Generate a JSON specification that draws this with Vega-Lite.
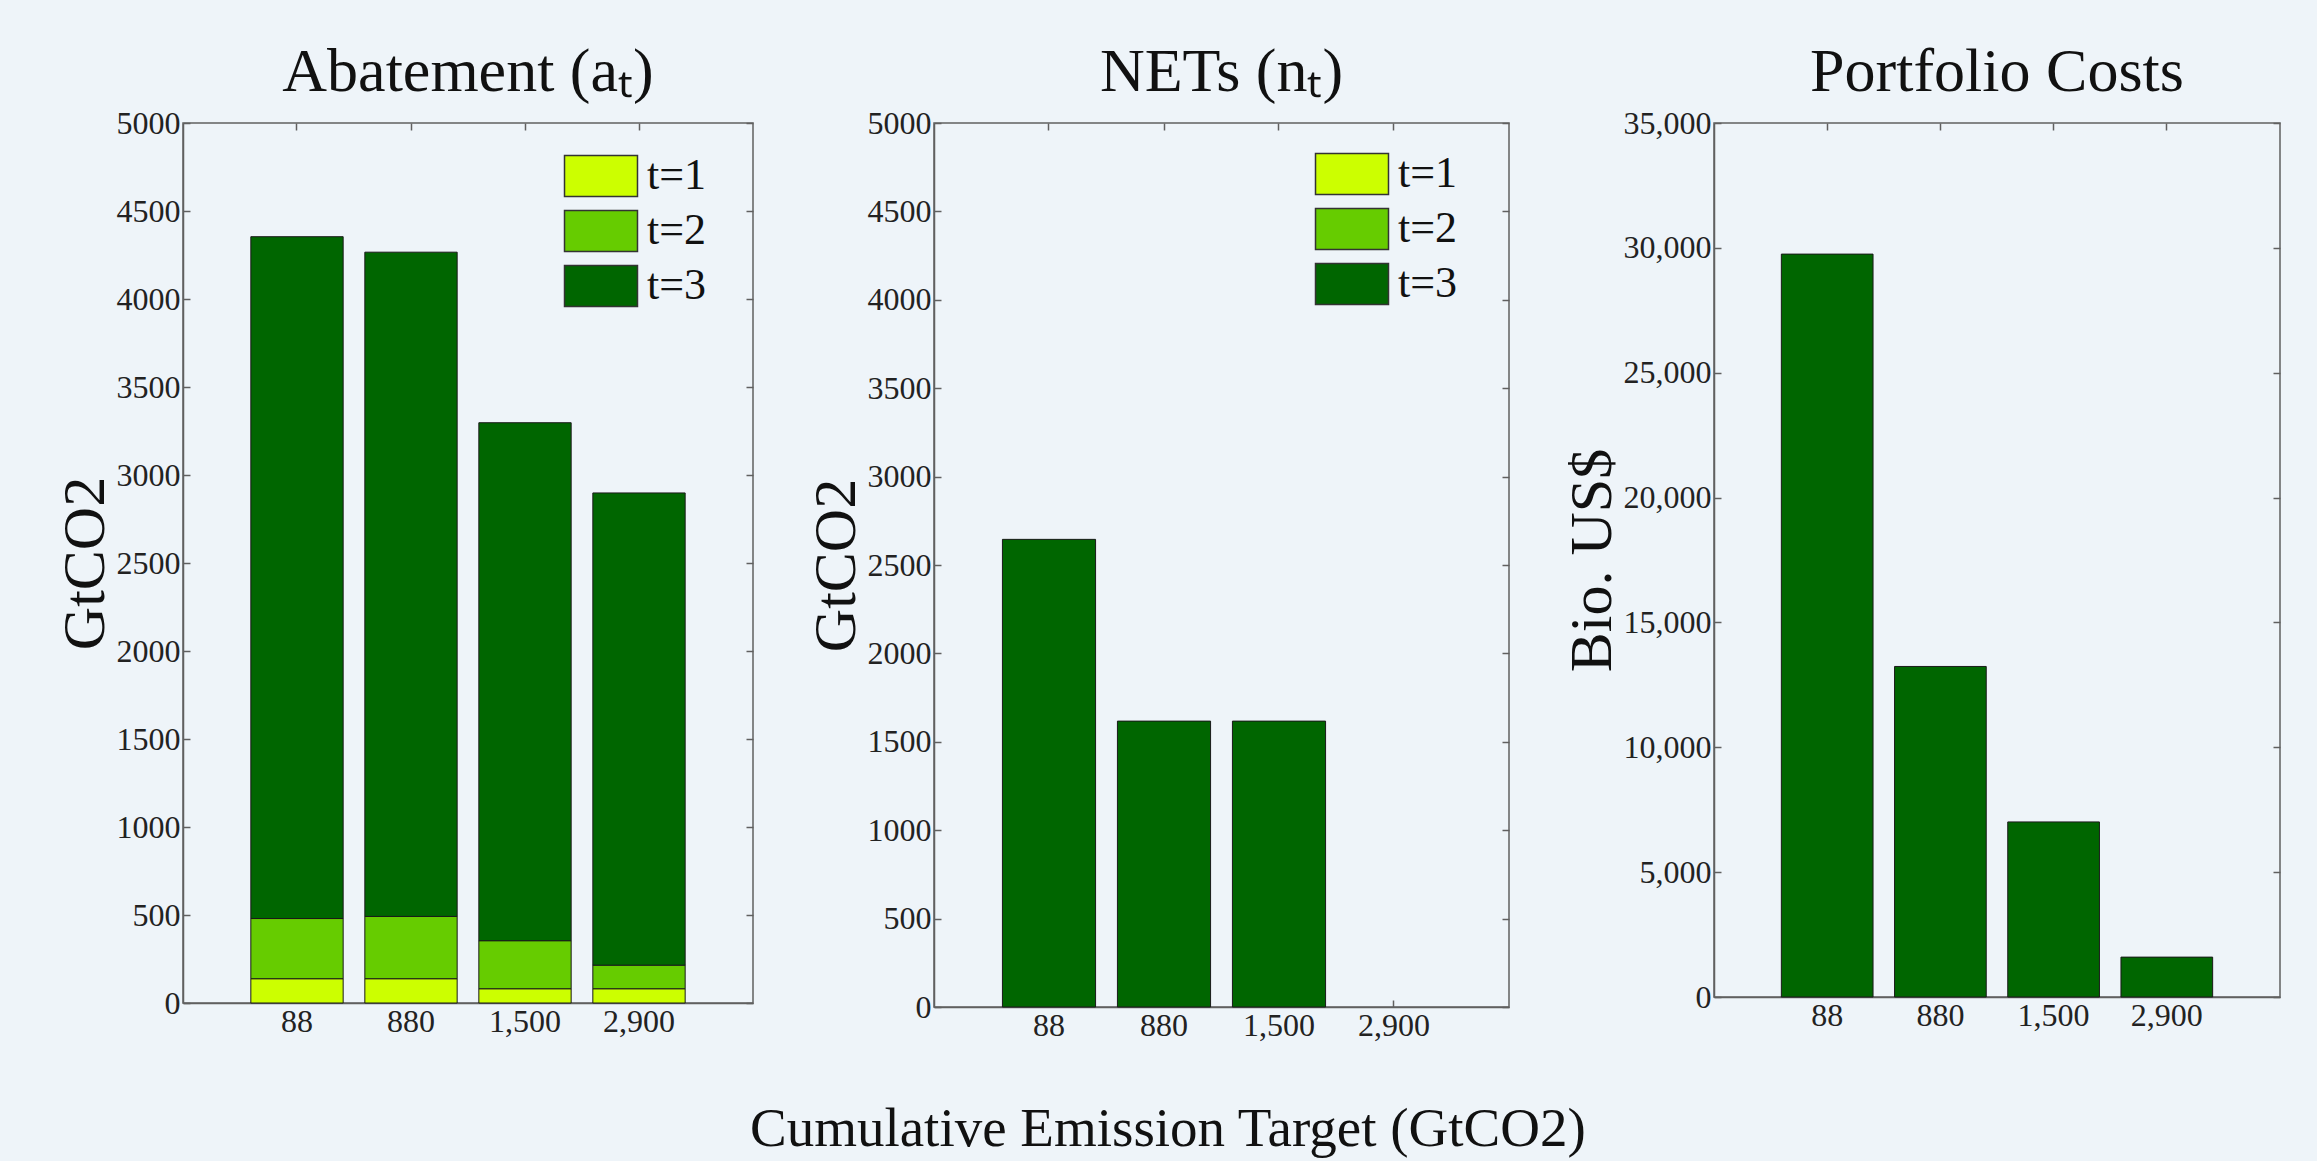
{
  "$schema": "https://vega.github.io/schema/vega-lite/v6.json",
  "background": "#eef4f9",
  "padding": {"left": 54, "top": 40, "right": 35, "bottom": 12},
  "title": {
    "text": "Cumulative Emission Target (GtCO2)",
    "orient": "bottom",
    "anchor": "middle",
    "font": "Liberation Serif",
    "fontSize": 55,
    "fontWeight": "normal",
    "color": "#111111",
    "offset": 61
  },
  "datasets": {
    "abatement": [
      {"target": "88", "period": "t=1", "value": 138},
      {"target": "88", "period": "t=2", "value": 342},
      {"target": "88", "period": "t=3", "value": 3874},
      {"target": "880", "period": "t=1", "value": 138},
      {"target": "880", "period": "t=2", "value": 354},
      {"target": "880", "period": "t=3", "value": 3774},
      {"target": "1,500", "period": "t=1", "value": 81},
      {"target": "1,500", "period": "t=2", "value": 273},
      {"target": "1,500", "period": "t=3", "value": 2943},
      {"target": "2,900", "period": "t=1", "value": 81},
      {"target": "2,900", "period": "t=2", "value": 134},
      {"target": "2,900", "period": "t=3", "value": 2683}
    ],
    "nets": [
      {"target": "88", "period": "t=1", "value": 0},
      {"target": "88", "period": "t=2", "value": 0},
      {"target": "88", "period": "t=3", "value": 2645},
      {"target": "880", "period": "t=1", "value": 0},
      {"target": "880", "period": "t=2", "value": 0},
      {"target": "880", "period": "t=3", "value": 1617},
      {"target": "1,500", "period": "t=1", "value": 0},
      {"target": "1,500", "period": "t=2", "value": 0},
      {"target": "1,500", "period": "t=3", "value": 1617},
      {"target": "2,900", "period": "t=1", "value": 0},
      {"target": "2,900", "period": "t=2", "value": 0},
      {"target": "2,900", "period": "t=3", "value": 0}
    ],
    "costs": [
      {"target": "88", "value": 29750},
      {"target": "880", "value": 13237},
      {"target": "1,500", "value": 7011},
      {"target": "2,900", "value": 1597}
    ]
  },
  "spacing": 50,
  "resolve": {"scale": {"color": "independent"}, "legend": {"color": "independent"}},
  "hconcat": [
    {
      "width": 570,
      "height": 880,
      "title": {"text": "Abatement (aₜ)"},
      "data": {"name": "abatement"},
      "layer": [
        {
          "mark": {"type": "bar", "stroke": "#1a1a1a", "strokeWidth": 1},
          "encoding": {
            "x": {"field": "target", "type": "ordinal", "sort": ["88", "880", "1,500", "2,900"],
                  "scale": {"paddingInner": 0.19, "paddingOuter": 0.595},
                  "axis": {"title": null, "labelAngle": 0}},
            "y": {"field": "value", "type": "quantitative", "stack": "zero",
                  "scale": {"domain": [0, 5000], "nice": false},
                  "axis": {"title": "GtCO2", "values": [0, 500, 1000, 1500, 2000, 2500, 3000, 3500, 4000, 4500, 5000], "format": "d"}},
            "color": {"field": "period", "type": "nominal",
                      "scale": {"domain": ["t=1", "t=2", "t=3"], "range": ["#ccff00", "#66cc00", "#006600"]},
                      "legend": {"orient": "none", "legendX": 396, "legendY": 31}},
            "order": {"field": "period", "sort": "ascending"}
          }
        },
        {
          "mark": {"type": "bar", "opacity": 0},
          "encoding": {
            "x": {"field": "target", "type": "ordinal", "sort": ["88", "880", "1,500", "2,900"],
                  "axis": {"title": null, "orient": "top", "labels": false, "domain": false}},
            "y": {"field": "value", "type": "quantitative", "stack": null,
                  "axis": {"title": null, "orient": "right", "labels": false, "domain": false, "values": [0, 500, 1000, 1500, 2000, 2500, 3000, 3500, 4000, 4500, 5000]}}
          }
        }
      ],
      "resolve": {"axis": {"x": "independent", "y": "independent"}}
    },
    {
      "width": 575,
      "height": 884,
      "title": {"text": "NETs (nₜ)"},
      "data": {"name": "nets"},
      "layer": [
        {
          "mark": {"type": "bar", "stroke": "#1a1a1a", "strokeWidth": 1},
          "encoding": {
            "x": {"field": "target", "type": "ordinal", "sort": ["88", "880", "1,500", "2,900"],
                  "scale": {"paddingInner": 0.19, "paddingOuter": 0.595},
                  "axis": {"title": null, "labelAngle": 0}},
            "y": {"field": "value", "type": "quantitative", "stack": "zero",
                  "scale": {"domain": [0, 5000], "nice": false},
                  "axis": {"title": "GtCO2", "values": [0, 500, 1000, 1500, 2000, 2500, 3000, 3500, 4000, 4500, 5000], "format": "d"}},
            "color": {"field": "period", "type": "nominal",
                      "scale": {"domain": ["t=1", "t=2", "t=3"], "range": ["#ccff00", "#66cc00", "#006600"]},
                      "legend": {"orient": "none", "legendX": 396, "legendY": 29}},
            "order": {"field": "period", "sort": "ascending"},
            "strokeOpacity": {"condition": {"test": "datum.value == 0", "value": 0}, "value": 1}
          }
        },
        {
          "mark": {"type": "bar", "opacity": 0},
          "encoding": {
            "x": {"field": "target", "type": "ordinal", "sort": ["88", "880", "1,500", "2,900"],
                  "axis": {"title": null, "orient": "top", "labels": false, "domain": false}},
            "y": {"field": "value", "type": "quantitative", "stack": null,
                  "axis": {"title": null, "orient": "right", "labels": false, "domain": false, "values": [0, 500, 1000, 1500, 2000, 2500, 3000, 3500, 4000, 4500, 5000]}}
          }
        }
      ],
      "resolve": {"axis": {"x": "independent", "y": "independent"}}
    },
    {
      "width": 566,
      "height": 874,
      "title": {"text": "Portfolio Costs"},
      "data": {"name": "costs"},
      "layer": [
        {
          "mark": {"type": "bar", "stroke": "#1a1a1a", "strokeWidth": 1, "color": "#006600"},
          "encoding": {
            "x": {"field": "target", "type": "ordinal", "sort": ["88", "880", "1,500", "2,900"],
                  "scale": {"paddingInner": 0.19, "paddingOuter": 0.595},
                  "axis": {"title": null, "labelAngle": 0}},
            "y": {"field": "value", "type": "quantitative",
                  "scale": {"domain": [0, 35000], "nice": false},
                  "axis": {"title": "Bio.  US$", "values": [0, 5000, 10000, 15000, 20000, 25000, 30000, 35000], "format": ",d"}}
          }
        },
        {
          "mark": {"type": "bar", "opacity": 0},
          "encoding": {
            "x": {"field": "target", "type": "ordinal", "sort": ["88", "880", "1,500", "2,900"],
                  "axis": {"title": null, "orient": "top", "labels": false, "domain": false}},
            "y": {"field": "value", "type": "quantitative",
                  "axis": {"title": null, "orient": "right", "labels": false, "domain": false, "values": [0, 5000, 10000, 15000, 20000, 25000, 30000, 35000]}}
          }
        }
      ],
      "resolve": {"axis": {"x": "independent", "y": "independent"}}
    }
  ],
  "config": {
    "font": "Liberation Serif",
    "view": {"stroke": "#606060", "strokeWidth": 1.5},
    "axis": {
      "domainColor": "#606060", "domainWidth": 1.5,
      "tickColor": "#606060", "tickWidth": 1.5, "tickSize": -7,
      "labelFont": "Liberation Serif", "labelFontSize": 32, "labelColor": "#222222", "labelPadding": 10,
      "titleFont": "Liberation Serif", "titleFontSize": 60, "titleFontWeight": "normal", "titleColor": "#111111", "titlePadding": 0,
      "grid": false
    },
    "title": {"font": "Liberation Serif", "fontSize": 62, "fontWeight": "normal", "color": "#111111", "offset": 3},
    "legend": {
      "title": null,
      "symbolType": "M-1.78,-1H1.78V1H-1.78Z",
      "symbolSize": 1681,
      "symbolStrokeColor": "#333333",
      "symbolStrokeWidth": 1.5,
      "symbolOpacity": 1,
      "labelFont": "Liberation Serif",
      "labelFontSize": 44,
      "labelColor": "#111111",
      "labelOffset": 24,
      "rowPadding": 7,
      "padding": 0
    }
  }
}
